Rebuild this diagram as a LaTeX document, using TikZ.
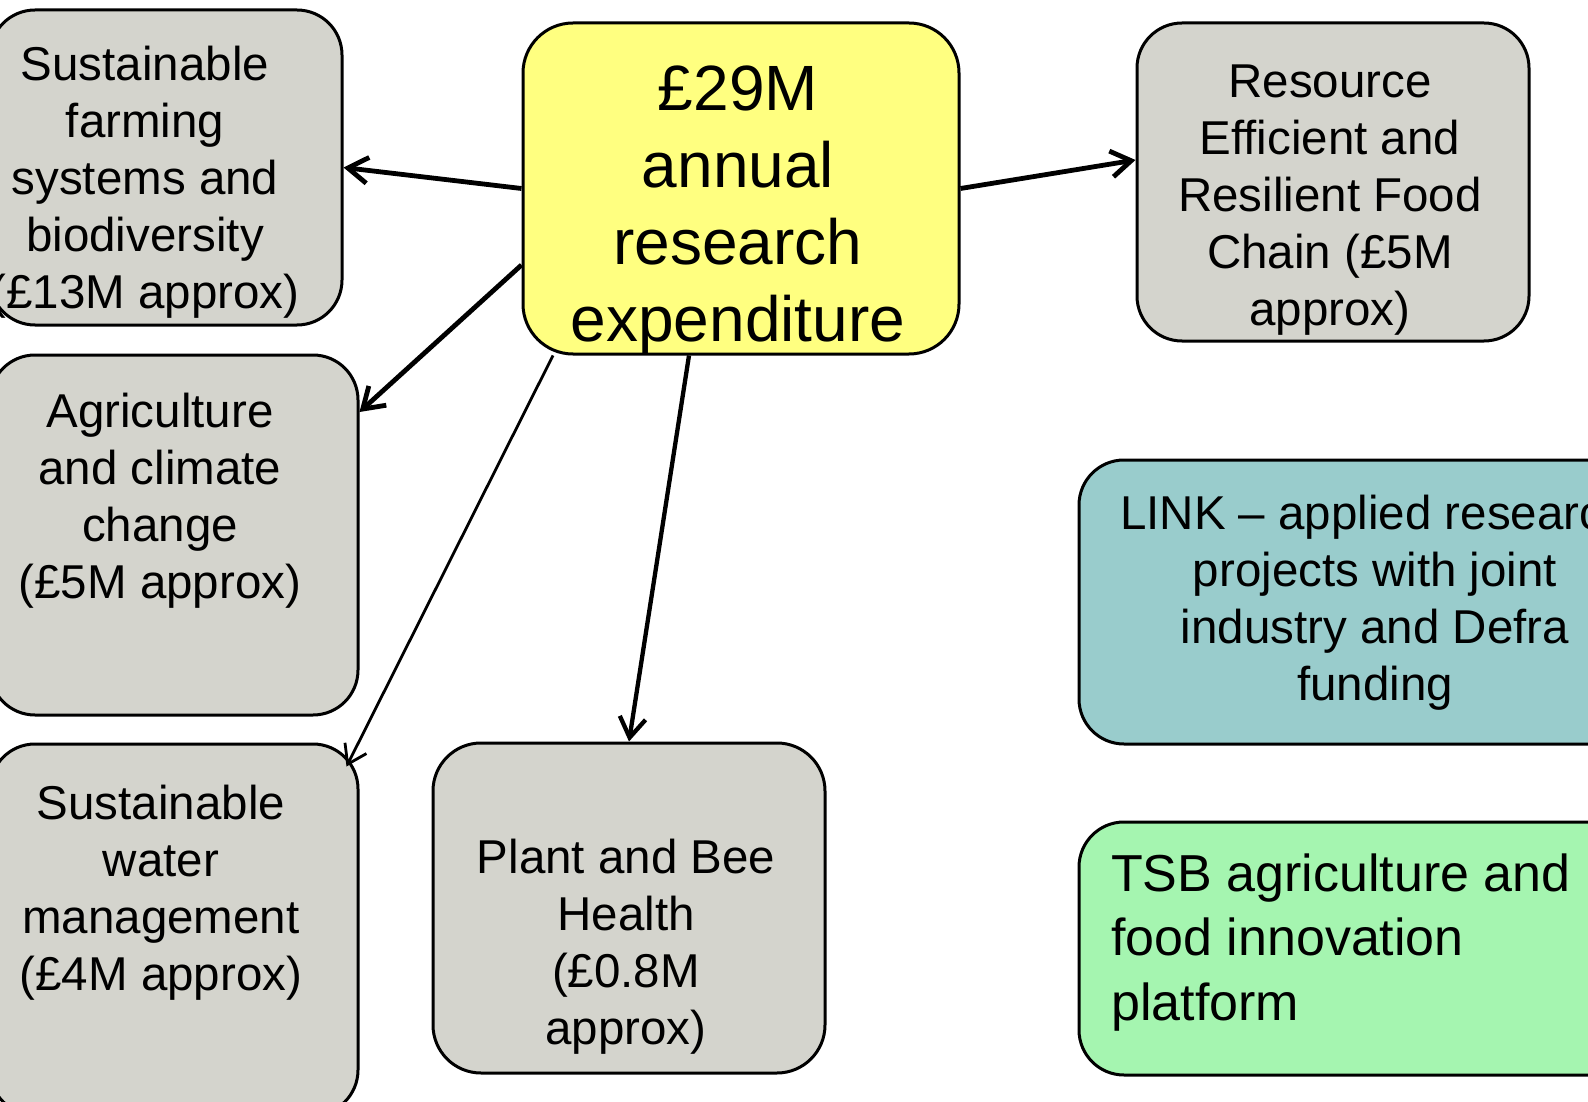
\documentclass[tikz,border=0pt]{standalone}
\usepackage{fontspec}
\setmainfont{Liberation Sans}
\usetikzlibrary{arrows.meta}
\definecolor{boxgray}{RGB}{212,212,205}
\definecolor{boxyellow}{RGB}{255,255,128}
\definecolor{boxteal}{RGB}{153,204,204}
\definecolor{boxgreen}{RGB}{165,245,176}
\begin{document}
\begin{tikzpicture}[x=1pt,y=-1pt,
  box/.style={draw=black, line width=3pt, rounded corners=45pt, inner sep=0pt},
  gbox/.style={box, fill=boxgray},
  txt/.style={inner sep=0pt, align=center, font=\fontsize{47.5}{57}\selectfont},
  conn/.style={line width=4.8pt, -{Straight Barb[length=20pt,width=26pt]}},
  thinconn/.style={line width=2.8pt, -{Straight Barb[length=18pt,width=24pt]}}
]
\useasboundingbox (0,0) rectangle (1588,1102);
\clip (0,0) rectangle (1588,1102);
% boxes
\node[gbox, minimum width=352pt, minimum height=315pt] (b1) at (166,167.5) {};
\node[box, fill=boxyellow, rounded corners=50pt, minimum width=436pt, minimum height=331pt] (y) at (741,188.5) {};
\node[gbox, minimum width=392pt, minimum height=318pt] (res) at (1333,182) {};
\node[gbox, minimum width=368pt, minimum height=360pt] (agri) at (174,535) {};
\node[gbox, minimum width=368pt, minimum height=371pt] (water) at (174,929.5) {};
\node[gbox, rounded corners=48pt, minimum width=392pt, minimum height=330pt] (plant) at (629,908) {};
\node[box, fill=boxteal, minimum width=571pt, minimum height=284pt] (link) at (1364.5,602) {};
\node[box, fill=boxgreen, minimum width=571pt, minimum height=253pt] (tsb) at (1364.5,948.5) {};
% texts
\node[txt] (t1) at (145,182.6) {Sustainable\strut\\farming\strut\\systems and\strut\\biodiversity\strut\\(£13M approx)\strut};
\node[txt, font=\fontsize{64}{77.3}\selectfont] (ty) at (738,210.5) {£29M\strut\\annual\strut\\research\strut\\expenditure\strut};
\node[txt] (tres) at (1330,199.6) {Resource\strut\\Efficient and\strut\\Resilient Food\strut\\Chain (£5M\strut\\approx)\strut};
\node[txt] (tagri) at (160,501.1) {Agriculture\strut\\and climate\strut\\change\strut\\(£5M approx)\strut};
\node[txt] (twater) at (161,893.1) {Sustainable\strut\\water\strut\\management\strut\\(£4M approx)\strut};
\node[txt] (tplant) at (626,947.1) {Plant and Bee\strut\\Health\strut\\(£0.8M\strut\\approx)\strut};
\node[txt] (tlink) at (1375,603.1) {LINK – applied research\strut\\projects with joint\strut\\industry and Defra\strut\\funding\strut};
\node[txt, align=left, anchor=west, font=\fontsize{52}{64.5}\selectfont] (ttsb) at (1111,942.6) {TSB agriculture and\strut\\food innovation\strut\\platform\strut};
% connectors
\draw[conn] (y.west) -- (b1.east);
\draw[conn] (y.east) -- ([yshift=22pt]res.west);
\draw[conn] ([yshift=-76.5pt]y.west) -- ([yshift=123pt]agri.east);
\draw[thinconn] ([xshift=-188pt]y.south) -- ([xshift=-13pt,yshift=-24pt]water.north east);
\draw[conn, line width=4.3pt] ([xshift=-52pt]y.south) -- (plant.north);
\end{tikzpicture}
\end{document}
